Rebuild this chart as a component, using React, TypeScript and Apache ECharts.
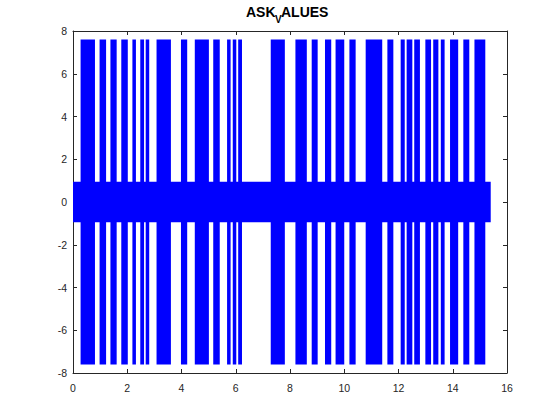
import React, { useEffect, useRef } from "react";
import * as echarts from "echarts";

// ASK signal: carrier bursts. Each burst: [start time, end time]
const lowBand: [number, number] = [0, 15.4];
const lowAmplitude = 0.95;
const highAmplitude = 7.6;
const highBursts: [number, number][] = [
  [0.28, 0.81], [0.98, 1.22], [1.38, 1.61], [1.78, 2.02], [2.19, 2.32],
  [2.48, 2.62], [2.68, 2.81], [3.08, 3.61], [3.98, 4.21], [4.49, 5.01],
  [5.17, 5.41], [5.68, 5.81], [5.89, 6.02], [6.09, 6.23], [7.29, 7.81],
  [8.2, 8.62], [8.8, 9.02], [9.29, 9.52], [9.68, 10.0], [10.19, 10.42],
  [10.79, 11.4], [11.59, 11.81], [12.08, 12.23], [12.3, 12.51], [12.58, 12.79],
  [12.99, 13.2], [13.28, 13.47], [13.56, 13.7], [13.9, 14.2], [14.39, 14.61],
  [14.8, 15.2],
];
const xTicks = [0, 2, 4, 6, 8, 10, 12, 14, 16];
const yTicks = [-8, -6, -4, -2, 0, 2, 4, 6, 8];
const titleParts = ["ASK", "V", "ALUES"];

const axisColor = "#262626";
const fontFamily = "'Liberation Sans', Arial, Helvetica, sans-serif";

export default function App() {
  const ref = useRef<HTMLDivElement>(null);
  useEffect(() => {
    if (!ref.current) return;
    const chart = echarts.init(ref.current, undefined, { renderer: "svg" });
    const data = [
      [lowBand[0], lowBand[1], lowAmplitude],
      ...highBursts.map((b) => [b[0], b[1], highAmplitude]),
    ];
    const axisBase = {
      type: "value" as const,
      axisLine: { show: true, onZero: false, lineStyle: { color: axisColor, width: 1 } },
      axisTick: { show: true, inside: true, length: 4, lineStyle: { color: axisColor } },
      splitLine: { show: false },
    };
    chart.setOption({
      animation: false,
      backgroundColor: "#ffffff",
      graphic: [
        {
          type: "text",
          left: 246,
          top: 5,
          style: { text: titleParts[0], font: `bold 14px ${fontFamily}`, fill: "#000" },
        },
        {
          type: "text",
          left: 275,
          top: 14,
          style: { text: titleParts[1], font: `bold 10px ${fontFamily}`, fill: "#000" },
        },
        {
          type: "text",
          left: 281,
          top: 5,
          style: { text: titleParts[2], font: `bold 14px ${fontFamily}`, fill: "#000" },
        },
      ],
      grid: { left: 73, right: 53, top: 31, bottom: 47, containLabel: false },
      xAxis: [
        {
          ...axisBase,
          position: "bottom",
          min: xTicks[0],
          max: xTicks[xTicks.length - 1],
          interval: 2,
          axisLabel: { color: axisColor, fontSize: 10.5, fontFamily, margin: 9 },
        },
        {
          ...axisBase,
          position: "top",
          min: xTicks[0],
          max: xTicks[xTicks.length - 1],
          interval: 2,
          axisLabel: { show: false },
        },
      ],
      yAxis: [
        {
          ...axisBase,
          position: "left",
          min: yTicks[0],
          max: yTicks[yTicks.length - 1],
          interval: 2,
          axisLabel: { color: axisColor, fontSize: 10.5, fontFamily, margin: 6 },
        },
        {
          ...axisBase,
          position: "right",
          min: yTicks[0],
          max: yTicks[yTicks.length - 1],
          interval: 2,
          axisLabel: { show: false },
        },
      ],
      series: [
        {
          type: "custom",
          xAxisIndex: 0,
          yAxisIndex: 0,
          encode: { x: [0, 1], y: 2 },
          data,
          renderItem: (params: any, api: any) => {
            const x0 = api.value(0);
            const x1 = api.value(1);
            const a = api.value(2);
            const p0 = api.coord([x0, a]);
            const p1 = api.coord([x1, -a]);
            return {
              type: "rect",
              shape: { x: p0[0], y: p0[1], width: p1[0] - p0[0], height: p1[1] - p0[1] },
              style: { fill: "#0000ff" },
            };
          },
        },
      ],
    });
    return () => chart.dispose();
  }, []);
  return <div ref={ref} style={{ width: 560, height: 420, position: "absolute", left: 0, top: 0 }} />;
}
